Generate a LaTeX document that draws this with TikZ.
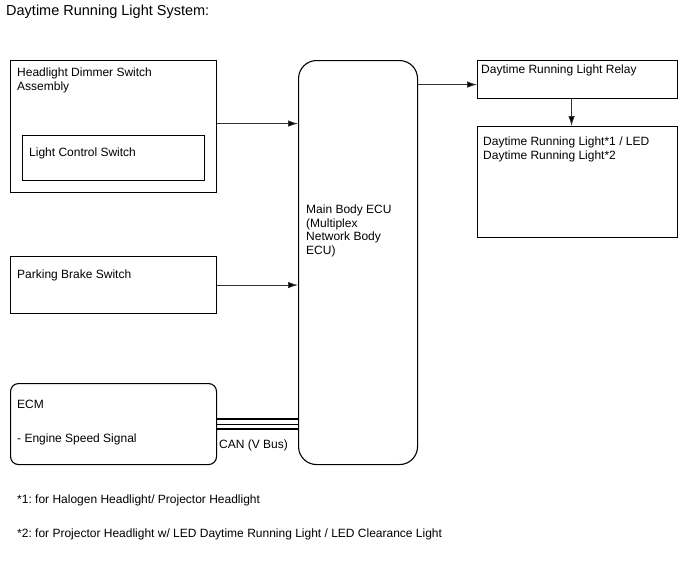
\documentclass[tikz,border=0pt]{standalone}
\usepackage{fontspec}
\setmainfont{Liberation Sans}
\frenchspacing
\usetikzlibrary{arrows.meta}

\begin{document}
\begin{tikzpicture}[
    x=1pt, y=-1pt,
    font=\fontsize{12}{13.5}\selectfont,
    box/.style={rectangle, draw, line width=1.1pt, anchor=north west, inner sep=0pt},
    rbox/.style={box, rounded corners=8pt},
    txt/.style={anchor=base west, inner sep=0pt, align=left},
    signal/.style={draw=black!80, line width=0.8pt, -{Latex[length=10pt, width=6.5pt, fill=black]}},
    canbus/.style={draw, line width=2pt}
]
\useasboundingbox (0,0) rectangle (688,560);

\node[txt, font=\fontsize{14.5}{16}\selectfont] (title) at (6,15) {Daytime Running Light System:};

% input side (multi-line texts sit on their last baseline)
\node[box, minimum width=206pt, minimum height=132pt] (dimmer) at (10,60) {};
\node[txt] (dimmertxt) at (17,90) {Headlight Dimmer Switch\\Assembly};
\node[box, minimum width=182pt, minimum height=45pt] (lcs) at (22,135) {};
\node[txt] (lcstxt) at (29,156) {Light Control Switch};

\node[box, minimum width=206pt, minimum height=57pt] (parking) at (10,256) {};
\node[txt] (parkingtxt) at (17,278) {Parking Brake Switch};

\node[rbox, minimum width=206pt, minimum height=81pt] (ecm) at (10,383) {};
\node[txt] (ecmtxt) at (17,408) {ECM};
\node[txt] (speedtxt) at (17,442) {- Engine Speed Signal};

% body ecu
\node[box, rounded corners=18pt, minimum width=119pt, minimum height=404pt] (ecu) at (298,60) {};
\node[txt] (ecutxt) at (306,254) {Main Body ECU\\(Multiplex\\Network Body\\ECU)};

% output side
\node[box, minimum width=200pt, minimum height=38pt] (relay) at (477,60) {};
\node[txt] (relaytxt) at (481,73) {Daytime Running Light Relay};
\node[box, minimum width=200pt, minimum height=111pt] (drl) at (477,126) {};
\node[txt] (drltxt) at (483,159) {Daytime Running Light*1 / LED\\Daytime Running Light*2};

% connections
\draw[signal] ([yshift=3pt]dimmer.east) -- ([yshift=3pt]dimmer.east -| ecu.west);
\draw[signal] (parking.east) -- (parking.east -| ecu.west);
\draw[signal] ([yshift=-5pt]relay.west -| ecu.east) -- ([yshift=-5pt]relay.west);
\draw[signal] ([xshift=-6pt]relay.south) -- ([xshift=-6pt]drl.north);

\draw[canbus] ([yshift=5pt]ecm.east) -- ([yshift=5pt]ecm.east -| ecu.west);
\draw[draw, line width=1pt] (ecm.east) -- (ecm.east -| ecu.west);
\draw[canbus] ([yshift=-4.5pt]ecm.east) -- ([yshift=-4.5pt]ecm.east -| ecu.west);
\node[txt] (cantxt) at (219,448) {CAN (V Bus)};

% notes
\node[txt] (note1) at (17,503) {*1: for Halogen Headlight/ Projector Headlight};
\node[txt] (note2) at (17,537) {*2: for Projector Headlight w/ LED Daytime Running Light / LED Clearance Light};

\end{tikzpicture}
\end{document}
